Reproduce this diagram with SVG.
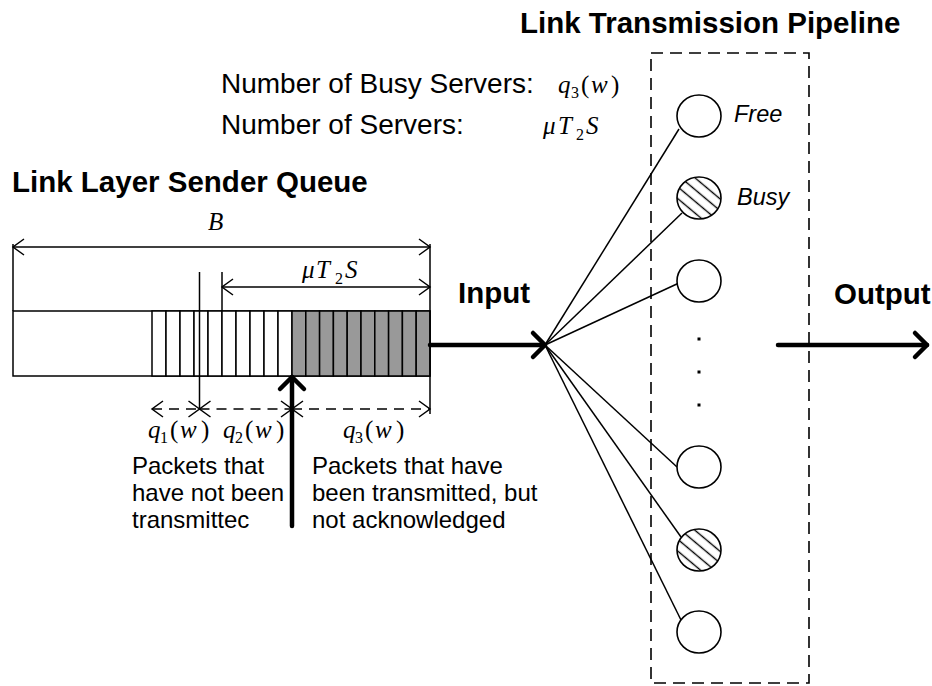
<svg xmlns="http://www.w3.org/2000/svg" width="932" height="686" viewBox="0 0 932 686">
  <style>
    .ln { stroke: #000; stroke-width: 1.5; fill: none; }
    .dash { stroke: #000; stroke-width: 1.5; fill: none; stroke-dasharray: 10 7; }
    .box { stroke: #000; stroke-width: 1.6; fill: none; stroke-dasharray: 12 7; }
    .thick { stroke: #000; stroke-width: 4.5; fill: none; stroke-linecap: round; }
    .cell { stroke: #000; stroke-width: 1.5; fill: #fff; }
    .cellg { stroke: #000; stroke-width: 1.5; fill: #999; }
    .srv { stroke: #000; stroke-width: 1.6; fill: #fff; }
    .busy { stroke: #000; stroke-width: 1.6; fill: url(#hatch); }
    .title { font-family: "Liberation Sans", Arial, sans-serif; font-weight: bold; font-size: 29.5px; fill: #000; }
    .lbl { font-family: "Liberation Sans", Arial, sans-serif; font-size: 28px; fill: #000; }
    .note { font-family: "Liberation Sans", Arial, sans-serif; font-size: 24px; fill: #000; }
    .state { font-family: "Liberation Sans", Arial, sans-serif; font-style: italic; font-size: 23.5px; fill: #000; }
    .math { font-family: "Liberation Serif", "Times New Roman", serif; font-size: 25px; fill: #000; }
    .it { font-style: italic; }
    .sub { font-size: 16px; }
  </style>
  <defs>
    <marker id="open" markerUnits="userSpaceOnUse" viewBox="-13 -10 15 20" refX="0" refY="0" markerWidth="15" markerHeight="20" orient="auto-start-reverse">
      <path d="M-11,-8 L0,0 L-11,8" fill="none" stroke="#000" stroke-width="1.5" stroke-dasharray="none"/>
    </marker>
    <marker id="chev" markerUnits="userSpaceOnUse" viewBox="-16 -16 20 32" refX="0" refY="0" markerWidth="20" markerHeight="32" orient="auto">
      <path d="M-12,-12 L0,0 L-12,12" fill="none" stroke="#000" stroke-width="4.5" stroke-linecap="round" stroke-linejoin="round"/>
    </marker>
    <pattern id="hatch" patternUnits="userSpaceOnUse" width="9" height="9" patternTransform="rotate(40)">
      <rect width="9" height="9" fill="#fff"/>
      <line x1="0" y1="4.5" x2="9" y2="4.5" stroke="#000" stroke-width="1.4"/>
    </pattern>
  </defs>

  <!-- headings -->
  <text class="title" x="12" y="192">Link Layer Sender Queue</text>
  <text class="title" x="520" y="33">Link Transmission Pipeline</text>

  <!-- server counts -->
  <g id="server-counts">
    <text class="lbl" x="221" y="93">Number of Busy Servers:</text>
    <text class="math" y="93" font-size="27"><tspan class="it" x="558">q</tspan><tspan class="sub" x="571" dy="5" font-size="17">3</tspan><tspan x="581" dy="-5">(</tspan><tspan class="it" x="591">w</tspan><tspan x="611">)</tspan></text>
    <text class="lbl" x="221" y="134">Number of Servers:</text>
    <text class="math" y="134" font-size="27"><tspan class="it" x="543">μ</tspan><tspan class="it" x="558">T</tspan><tspan class="sub" x="576" dy="6" font-size="17">2</tspan><tspan class="it" x="586" dy="-6">S</tspan></text>
  </g>

  <!-- sender queue -->
  <g id="queue">
    <rect class="cell" x="13" y="311" width="417" height="65"/>
    <g id="waiting-cells">
      <rect class="cell" x="152" y="311" width="14" height="65"/>
      <rect class="cell" x="166" y="311" width="14" height="65"/>
      <rect class="cell" x="180" y="311" width="14" height="65"/>
      <rect class="cell" x="194" y="311" width="14" height="65"/>
      <rect class="cell" x="208" y="311" width="14" height="65"/>
      <rect class="cell" x="222" y="311" width="14" height="65"/>
      <rect class="cell" x="236" y="311" width="14" height="65"/>
      <rect class="cell" x="250" y="311" width="14" height="65"/>
      <rect class="cell" x="264" y="311" width="14" height="65"/>
      <rect class="cell" x="278" y="311" width="14" height="65"/>
    </g>
    <g id="sent-cells">
      <rect class="cellg" x="292" y="311" width="13.8" height="65"/>
      <rect class="cellg" x="305.8" y="311" width="13.8" height="65"/>
      <rect class="cellg" x="319.6" y="311" width="13.8" height="65"/>
      <rect class="cellg" x="333.4" y="311" width="13.8" height="65"/>
      <rect class="cellg" x="347.2" y="311" width="13.8" height="65"/>
      <rect class="cellg" x="361" y="311" width="13.8" height="65"/>
      <rect class="cellg" x="374.8" y="311" width="13.8" height="65"/>
      <rect class="cellg" x="388.6" y="311" width="13.8" height="65"/>
      <rect class="cellg" x="402.4" y="311" width="13.8" height="65"/>
      <rect class="cellg" x="416.2" y="311" width="13.8" height="65"/>
    </g>
  </g>

  <!-- dimension lines -->
  <g id="dimensions">
    <line class="ln" x1="13" y1="244" x2="13" y2="311"/>
    <line class="ln" x1="430" y1="244" x2="430" y2="414"/>
    <line class="ln" x1="199.5" y1="272" x2="199.5" y2="410"/>
    <line class="ln" x1="222" y1="272" x2="222" y2="311"/>
    <line class="ln" x1="13" y1="247" x2="430" y2="247" marker-start="url(#open)" marker-end="url(#open)"/>
    <line class="ln" x1="222" y1="287" x2="430" y2="287" marker-start="url(#open)" marker-end="url(#open)"/>
    <line class="dash" x1="152" y1="409" x2="199.5" y2="409" marker-start="url(#open)" marker-end="url(#open)"/>
    <line class="dash" x1="199.5" y1="409" x2="292" y2="409" marker-start="url(#open)" marker-end="url(#open)"/>
    <line class="dash" x1="292" y1="409" x2="430" y2="409" marker-start="url(#open)" marker-end="url(#open)"/>
    <text class="math it" x="208" y="230" font-size="24">B</text>
    <text class="math" y="278" font-size="26"><tspan class="it" x="302">μ</tspan><tspan class="it" x="316">T</tspan><tspan class="sub" x="335" dy="6" font-size="17">2</tspan><tspan class="it" x="345" dy="-6">S</tspan></text>
    <text class="math" y="438"><tspan class="it" x="148">q</tspan><tspan class="sub" x="160" dy="5">1</tspan><tspan x="170" dy="-5">(</tspan><tspan class="it" x="180">w</tspan><tspan x="201">)</tspan></text>
    <text class="math" y="438"><tspan class="it" x="223">q</tspan><tspan class="sub" x="235" dy="5">2</tspan><tspan x="245" dy="-5">(</tspan><tspan class="it" x="255">w</tspan><tspan x="276">)</tspan></text>
    <text class="math" y="438"><tspan class="it" x="343">q</tspan><tspan class="sub" x="355" dy="5">3</tspan><tspan x="365" dy="-5">(</tspan><tspan class="it" x="375">w</tspan><tspan x="396">)</tspan></text>
  </g>

  <!-- explanatory notes -->
  <g id="notes">
    <text class="note" x="132" y="474">Packets that</text>
    <text class="note" x="132" y="501">have not been</text>
    <text class="note" x="132" y="528">transmittec</text>
    <text class="note" x="312" y="474">Packets that have</text>
    <text class="note" x="312" y="501">been transmitted, but</text>
    <text class="note" x="312" y="528">not acknowledged</text>
  </g>

  <!-- pipeline boundary -->
  <rect id="pipeline" class="box" x="651" y="53" width="158" height="630"/>

  <!-- connectors -->
  <g id="connectors">
    <line class="thick" x1="292" y1="526" x2="292" y2="377" marker-end="url(#chev)"/>
    <line class="thick" x1="430" y1="345" x2="545" y2="345" marker-end="url(#chev)"/>
    <line class="thick" x1="778" y1="345" x2="927" y2="345" marker-end="url(#chev)"/>
    <line class="ln" x1="545" y1="345" x2="679" y2="129"/>
    <line class="ln" x1="545" y1="345" x2="682" y2="213"/>
    <line class="ln" x1="545" y1="345" x2="679" y2="283"/>
    <line class="ln" x1="545" y1="345" x2="677" y2="467"/>
    <line class="ln" x1="545" y1="345" x2="681" y2="537"/>
    <line class="ln" x1="545" y1="345" x2="681" y2="620"/>
  </g>
  <text class="title" x="458" y="303">Input</text>
  <text class="title" x="834" y="304">Output</text>

  <!-- servers -->
  <g id="server1"><ellipse class="srv" cx="699" cy="116" rx="22" ry="21"/><text class="state" x="734" y="122">Free</text></g>
  <g id="server2"><ellipse class="busy" cx="699" cy="198" rx="22" ry="21"/><text class="state" x="737" y="205">Busy</text></g>
  <g id="server3"><ellipse class="srv" cx="699" cy="281" rx="22" ry="21"/></g>
  <g id="ellipsis">
    <rect x="697.5" y="337.5" width="3" height="3" fill="#000"/>
    <rect x="697.5" y="370.5" width="3" height="3" fill="#000"/>
    <rect x="697.5" y="403.5" width="3" height="3" fill="#000"/>
  </g>
  <g id="server4"><ellipse class="srv" cx="699" cy="467" rx="22" ry="21"/></g>
  <g id="server5"><ellipse class="busy" cx="699" cy="550" rx="22" ry="21"/></g>
  <g id="server6"><ellipse class="srv" cx="699" cy="632" rx="22" ry="21"/></g>
</svg>
